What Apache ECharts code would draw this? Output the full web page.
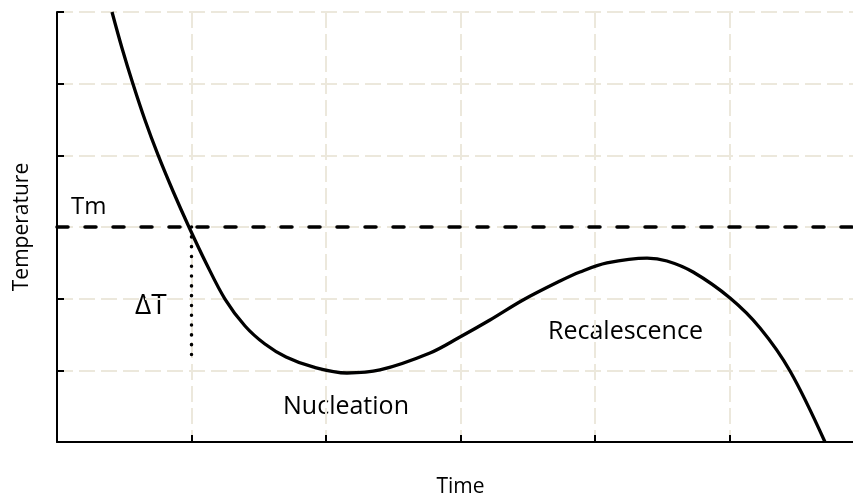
<!DOCTYPE html>
<html>
<head>
<meta charset="utf-8">
<script src="https://cdn.jsdelivr.net/npm/echarts@6/dist/echarts.min.js"></script>
<style>
html,body{margin:0;padding:0;background:#fff;}
#chart{width:853px;height:493px;}
</style>
</head>
<body>
<div id="chart"></div>
<script>
// Cooling curve (time, temperature)
const timeVals = [0.409, 0.483, 0.565, 0.654, 0.751, 0.862, 0.981, 1.108, 1.249, 1.398, 1.546, 1.703, 1.903, 2.156, 2.401, 2.773, 2.996, 3.219, 3.465, 3.740, 3.888, 4.089, 4.387, 4.535, 4.729, 5.004, 5.227, 5.450, 5.710];
const tempVals = [6.0, 5.498, 4.995, 4.493, 4.005, 3.502, 3.0, 2.498, 1.995, 1.619, 1.367, 1.186, 1.047, 0.963, 1.005, 1.242, 1.465, 1.702, 1.981, 2.246, 2.372, 2.498, 2.567, 2.526, 2.372, 2.009, 1.591, 0.991, 0.0];
// Melting temperature line and undercooling marker
const tmLevel = 3;
const tmSpan = [0, 6];
const deltaTTime = 1;
const deltaTRange = [3, 1.12];
// Text labels
const xAxisName = 'Time';
const yAxisName = 'Temperature';
const annotations = ['Tm', 'ΔT', 'Nucleation', 'Recalescence'];

const curve = timeVals.map((t, i) => [t, tempVals[i]]);
const tmLine = tmSpan.map(t => [t, tmLevel]);
const dtLine = deltaTRange.map(v => [deltaTTime, v]);

const chart = echarts.init(document.getElementById('chart'), null, {renderer: 'canvas'});
const font = "'Open Sans', sans-serif";
const gridStyle = {color: '#ece8dc', width: 2, type: [16, 6]};
chart.setOption({
  animation: false,
  backgroundColor: '#fff',
  grid: {left: 57, top: 12, right: -11, bottom: 51, outerBoundsMode: 'none'},
  xAxis: {
    type: 'value', min: 0, max: 6, interval: 1,
    name: xAxisName, nameLocation: 'middle', nameGap: 35,
    nameTextStyle: {fontFamily: font, fontSize: 21, color: '#000'},
    axisLine: {show: true, onZero: false, lineStyle: {color: '#000', width: 2}},
    axisTick: {show: true, inside: true, length: 7, lineStyle: {color: '#000', width: 2}},
    axisLabel: {show: false},
    splitLine: {show: true, lineStyle: gridStyle}
  },
  yAxis: {
    type: 'value', min: 0, max: 6, interval: 1,
    name: yAxisName, nameLocation: 'middle', nameGap: 24,
    nameTextStyle: {fontFamily: font, fontSize: 21, color: '#000'},
    axisLine: {show: true, onZero: false, lineStyle: {color: '#000', width: 2}},
    axisTick: {show: true, inside: true, length: 7, lineStyle: {color: '#000', width: 2}},
    axisLabel: {show: false},
    splitLine: {show: true, lineStyle: gridStyle}
  },
  series: [
    {
      type: 'line', data: tmLine, symbol: 'none', silent: true, z: 3,
      lineStyle: {color: '#000', width: 3.5, type: [11, 17], cap: 'round'}
    },
    {
      type: 'line', data: dtLine, symbol: 'none', silent: true, z: 3,
      lineStyle: {color: '#000', width: 3.5, type: [0.1, 9.7], cap: 'round'}
    },
    {
      type: 'line', data: curve, symbol: 'none', smooth: 0.35, silent: true, z: 4,
      lineStyle: {color: '#000', width: 3.3}
    }
  ],
  graphic: [
    {type: 'text', left: 71, top: 195, style: {text: annotations[0], font: "24px 'Open Sans'", fill: '#000'}},
    {type: 'text', left: 135, top: 292, style: {text: annotations[1], font: "28px 'Open Sans'", fill: '#000'}},
    {type: 'text', left: 283, top: 394, style: {text: annotations[2], font: "25px 'Open Sans'", fill: '#000'}},
    {type: 'text', left: 548, top: 319, style: {text: annotations[3], font: "25px 'Open Sans'", fill: '#000'}}
  ]
});
</script>
</body>
</html>
